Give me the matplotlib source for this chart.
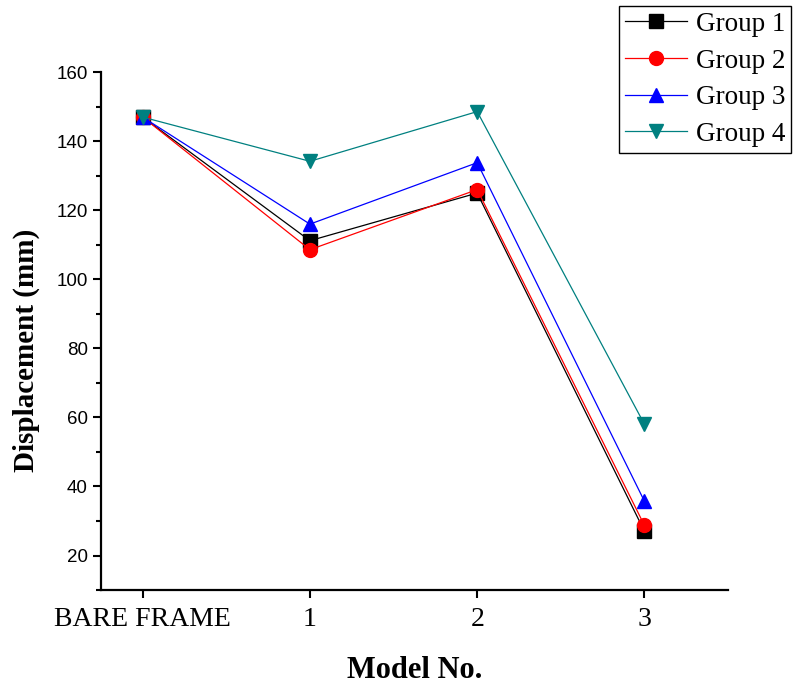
import matplotlib
matplotlib.use("Agg")
import matplotlib.pyplot as plt
from matplotlib.ticker import MultipleLocator

models = ["BARE FRAME", "1", "2", "3"]
group1 = [147.0, 111.2, 125.0, 27.0]
group2 = [147.0, 108.6, 126.0, 28.7]
group3 = [147.0, 116.0, 133.8, 35.7]
group4 = [147.0, 134.2, 148.6, 58.0]

labels = ["Group 1", "Group 2", "Group 3", "Group 4"]
colors = ["black", "red", "blue", "#008080"]
markers = ["s", "o", "^", "v"]

fig = plt.figure(figsize=(7.94, 6.88), dpi=100)
ax = fig.add_axes([0.127, 0.1424, 0.79, 0.7526])

x = range(len(models))
for ys, lab, c, m in zip([group1, group2, group3, group4], labels, colors, markers):
    ax.plot(x, ys, color=c, marker=m, markersize=10, linewidth=0.9, label=lab)

ax.set_xlim(-0.25, 3.5)
ax.set_ylim(10, 160)
ax.set_xticks(list(x))
ax.set_xticklabels(models, fontfamily="Liberation Serif", fontsize=20)
ax.yaxis.set_minor_locator(MultipleLocator(10))
ax.set_yticks(range(20, 161, 20))
for t in ax.get_yticklabels():
    t.set_fontfamily("Liberation Sans")
    t.set_fontsize(13.5)

ax.spines["top"].set_visible(False)
ax.spines["right"].set_visible(False)
ax.spines["left"].set_linewidth(1.6)
ax.spines["bottom"].set_linewidth(1.6)
ax.tick_params(axis="both", which="major", direction="out", length=6, width=1.5)
ax.tick_params(axis="y", which="minor", direction="out", length=3.5, width=1.5)
ax.tick_params(axis="x", which="major", pad=6)

ax.set_xlabel("Model No.", fontfamily="Liberation Serif", fontweight="bold", fontsize=22)
ax.xaxis.set_label_coords(0.5, -0.128)
ax.set_ylabel("Displacement (mm)", fontfamily="Liberation Serif", fontweight="bold", fontsize=21)
ax.yaxis.set_label_coords(-0.097, 0.463)

leg = fig.legend(loc="upper right", bbox_to_anchor=(791 / 794, 1 - 6 / 688),
                 prop={"family": "Liberation Serif", "size": 19.5},
                 fancybox=False, edgecolor="black", framealpha=1,
                 handlelength=2.3, labelspacing=0.43, borderpad=0.22, handletextpad=0.3,
                 borderaxespad=0)
leg.get_frame().set_linewidth(1.0)

fig.savefig("out.png", dpi=100)
